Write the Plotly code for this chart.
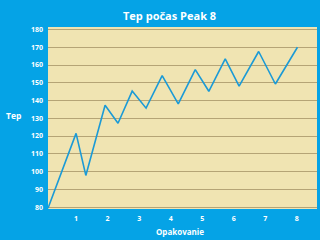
import plotly.graph_objects as go

reps = [0.11, 1.0, 1.31, 1.92, 2.33, 2.78, 3.22, 3.73, 4.24, 4.78, 5.21, 5.73, 6.17, 6.79, 7.32, 8.02]
tep = [79.3, 121.5, 97.8, 137.3, 127.2, 145.3, 135.7, 154.0, 138.1, 157.4, 145.2, 163.5, 148.1, 167.6, 149.3, 170.0]
x_ticks = [1, 2, 3, 4, 5, 6, 7, 8]
y_ticks = [80, 90, 100, 110, 120, 130, 140, 150, 160, 170, 180]

BG = "#05A3E6"
PLOT_BG = "#F0E4B2"
GRID = "#B5A476"
LINE = "#1B9AD6"
FONT = "Open Sans"

fig = go.Figure()
fig.add_trace(go.Scatter(x=reps, y=tep, mode="lines",
                         line=dict(color=LINE, width=1.6), hoverinfo="skip"))

fig.update_layout(
    width=320, height=240,
    margin=dict(l=48, r=3, t=27, b=31),
    paper_bgcolor=BG, plot_bgcolor=PLOT_BG,
    showlegend=False,
    font=dict(family=FONT, color="white"),
    xaxis=dict(range=[0.11, 8.64], tickvals=x_ticks, ticktext=[str(v) for v in x_ticks],
               showgrid=False, zeroline=False, showline=False, ticks="",
               ticklabelstandoff=4,
               tickfont=dict(size=7, family=FONT, color="white", weight="bold")),
    yaxis=dict(range=[78.9, 181.4], tickvals=y_ticks, ticktext=[str(v) for v in y_ticks],
               showgrid=True, gridcolor=GRID, gridwidth=1, zeroline=False, showline=False,
               ticks="", ticklabelstandoff=4,
               tickfont=dict(size=7, family=FONT, color="white", weight="bold")),
    annotations=[
        dict(text="<b>Tep počas Peak 8</b>", xref="paper", yref="paper",
             x=(169 - 48) / 268.7, y=1 + (27 - 16) / 182, showarrow=False,
             font=dict(size=11, family=FONT, color="white"), xanchor="center", yanchor="middle"),
        dict(text="<b>Tep</b>", xref="paper", yref="paper",
             x=(14 - 48) / 268.7, y=1 - (115 - 27) / 182, showarrow=False,
             font=dict(size=8.5, family=FONT, color="white"), xanchor="center", yanchor="middle"),
        dict(text="<b>Opakovanie</b>", xref="paper", yref="paper",
             x=(180 - 48) / 268.7, y=-(231.5 - 209) / 182, showarrow=False,
             font=dict(size=8, family=FONT, color="white"), xanchor="center", yanchor="middle"),
    ],
)

fig.write_html("out.html")
